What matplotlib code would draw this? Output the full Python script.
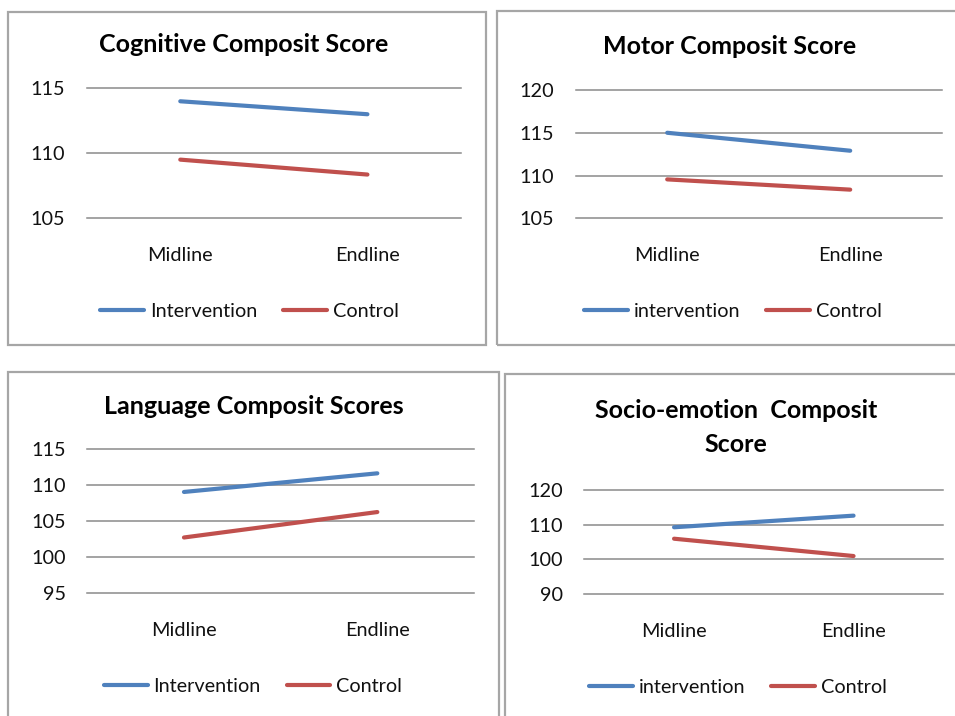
import matplotlib
matplotlib.use("Agg")
import matplotlib.pyplot as plt
from matplotlib.patches import Rectangle

plt.rcParams['font.family'] = ['Lato', 'DejaVu Sans']

W, H = 955, 716
DPI = 100

categories = ["Midline", "Endline"]

cog_title = "Cognitive Composit Score"
cog_intervention = [114.0, 113.0]
cog_control = [109.5, 108.35]
cog_ticks = [105, 110, 115]
cog_labels = ["Intervention", "Control"]

motor_title = "Motor Composit Score"
motor_intervention = [115.0, 112.9]
motor_control = [109.55, 108.35]
motor_ticks = [105, 110, 115, 120]
motor_labels = ["intervention", "Control"]

lang_title = "Language Composit Scores"
lang_intervention = [109.05, 111.65]
lang_control = [102.7, 106.25]
lang_ticks = [95, 100, 105, 110, 115]
lang_labels = ["Intervention", "Control"]

socio_title = "Socio-emotion  Composit\nScore"
socio_intervention = [109.25, 112.6]
socio_control = [105.95, 100.95]
socio_ticks = [90, 100, 110, 120]
socio_labels = ["intervention", "Control"]

BLUE = "#4F81BD"
RED = "#C0504D"
GRID = "#8a8a8a"
BORDER = "#a6a6a6"
TXT = "#111111"

fig = plt.figure(figsize=(W / DPI, H / DPI), dpi=DPI)
fig.patch.set_facecolor("white")


def fx(x):
    return x / W


def fy(y):
    return 1 - y / H


def add_box(x0, y0, x1, y1):
    r = Rectangle((fx(x0), fy(y1)), fx(x1) - fx(x0), fy(y0) - fy(y1),
                  transform=fig.transFigure, fill=False, edgecolor=BORDER,
                  linewidth=1.6, zorder=0)
    fig.add_artist(r)


def panel(box, axbox, title, title_xy, inter, ctrl, ticks, labels, leg_xy):
    add_box(*box)
    x0, x1, yt, yb = axbox
    ax = fig.add_axes([fx(x0), fy(yb), fx(x1) - fx(x0), fy(yt) - fy(yb)])
    ax.set_facecolor("none")
    xs = range(len(categories))
    l1, = ax.plot(xs, inter, color=BLUE, lw=3.0, solid_capstyle="round",
                  label=labels[0], zorder=3)
    l2, = ax.plot(xs, ctrl, color=RED, lw=3.0, solid_capstyle="round",
                  label=labels[1], zorder=3)
    ax.set_xlim(-0.5, len(categories) - 0.5)
    ax.set_ylim(ticks[0], ticks[-1])
    ax.set_yticks(ticks)
    ax.set_yticklabels([str(t) for t in ticks])
    ax.set_xticks(list(xs))
    ax.set_xticklabels(categories)
    for s in ax.spines.values():
        s.set_visible(False)
    ax.tick_params(axis="y", length=0, pad=15.5, labelsize=14.3, labelcolor=TXT)
    ax.tick_params(axis="x", length=0, pad=21, labelsize=14.3, labelcolor=TXT)
    for t in ticks:
        ax.axhline(t, color=GRID, lw=1.1, zorder=1, clip_on=False)
    fig.text(fx(title_xy[0]), fy(title_xy[1]), title, ha="center", va="center",
             fontsize=18, fontweight="bold", color="black", linespacing=1.55)
    leg = ax.legend(handles=[l1, l2], loc="center", ncol=2, frameon=False,
                    bbox_to_anchor=(fx(leg_xy[0]), fy(leg_xy[1])),
                    bbox_transform=fig.transFigure, fontsize=14.3,
                    handlelength=2.2, handletextpad=0.3, columnspacing=1.3,
                    borderpad=0, borderaxespad=0)
    for t in leg.get_texts():
        t.set_color(TXT)
    return ax


panel((8.3, 11.5, 485.7, 345.3), (86.7, 461.0, 88.3, 218.0),
      cog_title, (244, 45), cog_intervention, cog_control, cog_ticks,
      cog_labels, (249.5, 311.5))
panel((497.3, 11.0, 965, 345.3), (575.7, 941.7, 90.0, 218.3),
      motor_title, (730, 47), motor_intervention, motor_control, motor_ticks,
      motor_labels, (733, 311.5))
panel((8.3, 371.8, 499.3, 725), (87.3, 474.0, 449.3, 592.7),
      lang_title, (253.5, 406), lang_intervention, lang_control, lang_ticks,
      lang_labels, (253, 686))
panel((505.0, 374.3, 965, 725), (584.3, 943.3, 490.0, 594.0),
      socio_title, (736, 427.5), socio_intervention, socio_control, socio_ticks,
      socio_labels, (738, 687.5))

fig.savefig("out.png", dpi=DPI, facecolor="white")
